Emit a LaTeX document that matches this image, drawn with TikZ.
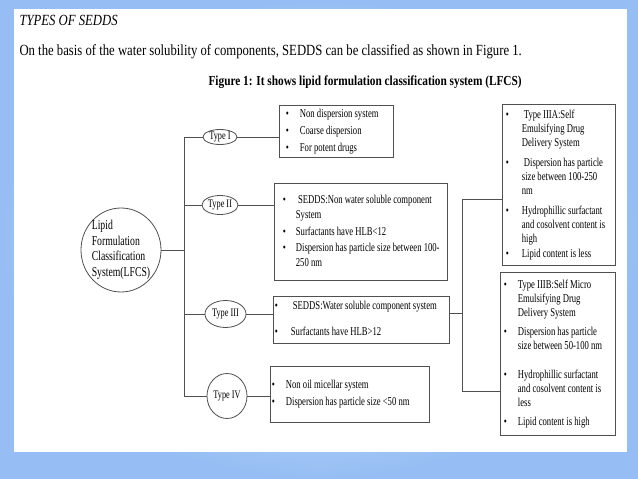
\documentclass[tikz,border=0pt]{standalone}
\usepackage{fontspec}
\setmainfont{Liberation Serif}[FakeStretch=0.82]
\newfontfamily\boxfont{Liberation Serif}[FakeStretch=0.72]
\usetikzlibrary{shapes.geometric}
\definecolor{bgblue}{RGB}{150,190,244}
\definecolor{bglight}{RGB}{228,240,253}
\definecolor{inkgray}{RGB}{80,80,80}
\newcommand\bul[1][14pt]{\makebox[#1][l]{\textbullet}}
\newcommand\ind[1][14pt]{\hspace*{#1}}
\newcommand\blines[3]{\makebox[#1][l]{\hspace*{#2}\begin{tabular}{@{}l@{}}#3\end{tabular}}}
\tikzset{
  lfcsbox/.style={draw=inkgray,line width=.8pt,anchor=north west,inner sep=0pt,
    font=\boxfont\fontsize{12}{14}\selectfont},
  typeoval/.style={draw=inkgray,line width=.8pt,ellipse,inner xsep=-1pt,inner ysep=0pt,
    font=\boxfont\fontsize{11.5}{12}\selectfont},
  link/.style={draw=inkgray,line width=.8pt}
}
\begin{document}
\begin{tikzpicture}[x=1pt,y=-1pt]
\shade[inner color=bglight,outer color=bgblue] (0,0) rectangle (638,479);
\fill[white] (14,9) rectangle (627,452);
\node[anchor=base west,font=\fontsize{15.5}{17}\selectfont\itshape] (ttl) at (16,26) {TYPES OF SEDDS};
\node[anchor=base west,font=\fontsize{15.5}{17}\selectfont] (intro) at (16,55)
  {On the basis of the water solubility of components, SEDDS can be classified as shown in Figure 1.};
\node[anchor=base west,font=\fontsize{13.8}{16}\selectfont\bfseries] (cap) at (205,85)
  {Figure 1: It shows lipid formulation classification system (LFCS)};
\node[typeoval,inner sep=-3pt,minimum width=80pt,minimum height=84pt,align=left,
  font=\boxfont\fontsize{13.5}{15.5}\selectfont]
  (root) at (121,250) {Lipid\\Formulation\\Classification\\System(LFCS)};
\node[typeoval,minimum width=34pt,minimum height=15pt] (t1) at (220,137) {Type I};
\node[typeoval,minimum width=36pt,minimum height=19pt] (t2) at (220,205) {Type II};
\node[typeoval,minimum width=41pt,minimum height=27pt] (t3) at (225.5,314) {Type III};
\node[typeoval,minimum width=40pt,minimum height=45pt] (t4) at (227,396) {Type IV};
\node[lfcsbox,minimum height=52pt] (b1) at (279,105)
  {\blines{114pt}{6.5pt}{\bul Non dispersion system\\[3pt]\bul Coarse dispersion\\[3pt]\bul For potent drugs}};
\node[lfcsbox,minimum height=97pt] (b2) at (274,183)
  {\blines{173pt}{8.5pt}{\bul[13pt]\ SEDDS:Non water soluble component\\[1pt]\ind[13pt]System\\[3pt]
   \bul[13pt]Surfactants have HLB<12\\[2pt]
   \bul[13pt]Dispersion has particle size between 100-\\[1pt]\ind[13pt]250 nm}};
\node[lfcsbox,minimum height=47pt] (b3) at (273,296)
  {\blines{176pt}{1.5pt}{\bul[16pt]\,SEDDS:Water soluble component system\\[12pt]\bul[16pt]Surfactants have HLB>12}};
\node[lfcsbox,minimum height=56pt] (b4) at (270,366)
  {\blines{159pt}{1.5pt}{\bul Non oil micellar system\\[3pt]\bul Dispersion has particle size <50 nm}};
\node[lfcsbox,minimum height=161pt] (b3a) at (502,104)
  {\blines{113pt}{3.5pt}{\bul[16pt]\,Type IIIA:Self\\\ind[16pt]Emulsifying Drug\\\ind[16pt]Delivery System\\[6pt]
   \bul[16pt]\,Dispersion has particle\\\ind[16pt]size between 100-250\\\ind[16pt]nm\\[6pt]
   \bul[16pt]Hydrophillic surfactant\\\ind[16pt]and cosolvent content is\\\ind[16pt]high\\[1pt]
   \bul[16pt]Lipid content is less}};
\node[lfcsbox,minimum height=163pt] (b3b) at (500,272)
  {\blines{115pt}{3.5pt}{\bul Type IIIB:Self Micro\\\ind Emulsifying Drug\\\ind Delivery System\\[5pt]
   \bul Dispersion has particle\\\ind size between 50-100 nm\\[15pt]
   \bul Hydrophillic surfactant\\\ind and cosolvent content is\\\ind less\\[5pt]
   \bul Lipid content is high}};
\coordinate (trunk) at (184,250);
\coordinate (fork) at (462,313);
\coordinate (forka) at (462,199);
\coordinate (forkb) at (462,391);
\draw[link] (root.east) -- (trunk);
\foreach \t/\b in {t1/b1,t2/b2,t3/b3,t4/b4}{
  \draw[link] (\t.west) -| (trunk);
  \draw[link] (\t.east) -- (\t.east -| \b.west);
}
\draw[link] (fork -| b3.east) -- (fork);
\draw[link] (forka -| b3a.west) -- (forka) -- (forkb) -- (forkb -| b3b.west);
\end{tikzpicture}
\end{document}
